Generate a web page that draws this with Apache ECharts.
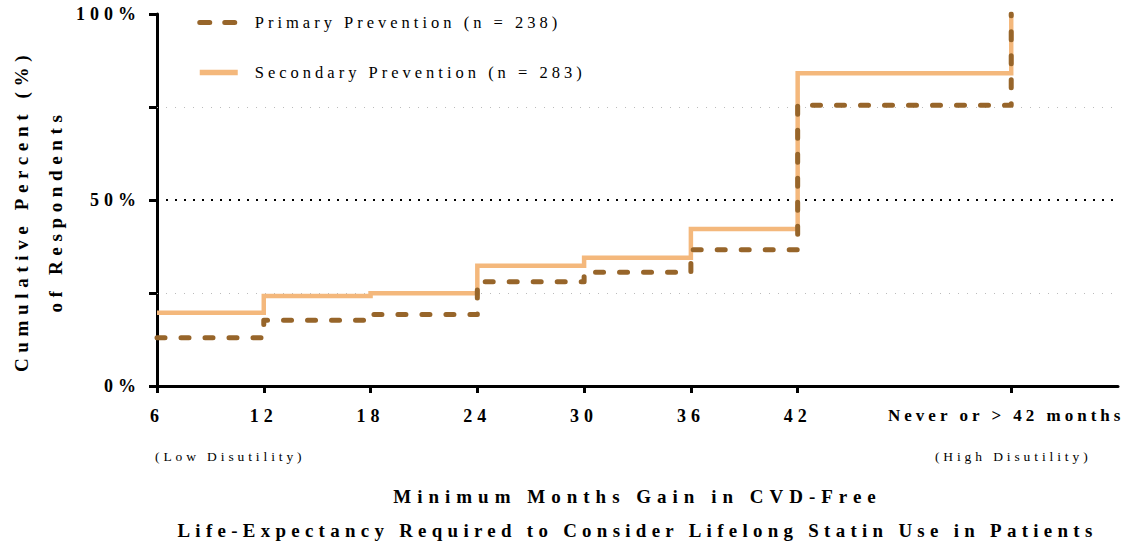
<!DOCTYPE html>
<html><head><meta charset="utf-8">
<script src="https://cdn.jsdelivr.net/npm/echarts@6/dist/echarts.min.js"></script>
<style>html,body{margin:0;padding:0;background:#fff}#chart{width:1133px;height:546px}</style>
</head><body><div id="chart"></div>
<script>
const months = [6, 12, 18, 24, 30, 36, 42, 54];
const xTickLabels = ['6', '12', '18', '24', '30', '36', '42', 'Never or > 42 months'];
const primary = [13.0, 17.7, 19.2, 28.0, 30.6, 36.6, 75.5, 100];
const secondary = [19.7, 24.2, 24.9, 32.3, 34.5, 42.2, 84.1, 100];
const seriesNames = ['Primary Prevention (n = 238)', 'Secondary Prevention (n = 283)'];
const yLabels = {0: '0%', 50: '50%', 100: '100%'};
const refLines = [25, 50, 75];
const subLabels = ['(Low Disutility)', '(High Disutility)'];
const subLabelAt = [6, 54];
const xNameLines = ['Minimum Months Gain in CVD-Free', 'Life-Expectancy Required to Consider Lifelong Statin Use in Patients'];
const yNameLines = ['Cumulative Percent (%)', 'of Respondents'];

const FONT = "'Liberation Serif', 'DejaVu Serif', serif";
const spacingBySize = {'18px': 5, '19px': 6.0, '18.9px': 5.3, '19.1px': 5.6, '16.5px': 4.0, '13.5px': 3.9, '17px': 4.0};
const BROWN = '#97652A', PEACH = '#F4B87C';

const chart = echarts.init(document.getElementById('chart'), null, {renderer: 'svg'});
const option = {
  animation: false,
  backgroundColor: '#fff',
  grid: {left: 157, right: 15, top: 14, bottom: 160, containLabel: false, outerBoundsMode: 'none'},
  legend: {
    orient: 'vertical', left: 192, top: 9, itemWidth: 38, itemHeight: 16, itemGap: 33,
    selectedMode: false,
    itemStyle: {opacity: 0},
    textStyle: {fontFamily: FONT, fontSize: 16.5, color: '#000', padding: [0, 0, 0, 12]},
    data: [
      {name: seriesNames[0], lineStyle: {color: BROWN, width: 5, type: [10, 15], cap: 'round'}},
      {name: seriesNames[1], lineStyle: {color: PEACH, width: 5.5, type: 'solid', cap: 'butt'}}
    ]
  },
  xAxis: {
    type: 'value', min: 6, max: 60,
    axisLine: {show: true, lineStyle: {color: '#000', width: 3}},
    axisTick: {show: true, customValues: months, length: 7, lineStyle: {color: '#000', width: 3}},
    axisLabel: {
      customValues: months, margin: 21,
      fontFamily: FONT, fontWeight: 'bold', fontSize: 18, color: '#000',
      formatter: v => { const i = months.indexOf(v); if (i < 0) return ''; return i === months.length - 1 ? '{n|' + xTickLabels[i] + '}' : xTickLabels[i]; },
      rich: {n: {fontFamily: FONT, fontWeight: 'bold', fontSize: 17, color: '#000', padding: [0, 10, 0, 0]}}
    },
    splitLine: {show: false},
    name: '{a|' + xNameLines[0] + '}\n{b|' + xNameLines[1] + '}',
    nameLocation: 'middle', nameGap: 93,
    nameTextStyle: {fontFamily: FONT, fontWeight: 'bold', fontSize: 19, color: '#000', lineHeight: 34,
      rich: {a: {fontFamily: FONT, fontWeight: 'bold', fontSize: 19, color: '#000', lineHeight: 34},
             b: {fontFamily: FONT, fontWeight: 'bold', fontSize: 18.9, color: '#000', lineHeight: 34}}}
  },
  yAxis: {
    type: 'value', min: 0, max: 100, interval: 25,
    axisLine: {show: true, lineStyle: {color: '#000', width: 3}},
    axisTick: {show: true, length: 8, lineStyle: {color: '#000', width: 3}},
    axisLabel: {margin: 16, fontFamily: FONT, fontWeight: 'bold', fontSize: 18, color: '#000',
      formatter: v => yLabels[v] || ''},
    splitLine: {show: false},
    name: yNameLines.join('\n'),
    nameLocation: 'middle', nameRotate: 90, nameGap: 85,
    nameTextStyle: {fontFamily: FONT, fontWeight: 'bold', fontSize: 19.1, color: '#000', lineHeight: 34,
      padding: [0, 22, 0, 0]}
  },
  series: [
    {
      name: seriesNames[1], type: 'line', step: 'end', symbol: 'none', z: 2,
      data: months.map((m, i) => [m, secondary[i]]),
      lineStyle: {color: PEACH, width: 4.5, cap: 'butt', join: 'miter'},
      itemStyle: {color: PEACH},
      markLine: {
        silent: true, symbol: ['none', 'none'], label: {show: false}, z: 1,
        data: refLines.map(v => ({yAxis: v, lineStyle: v === 50
          ? {color: '#000', type: [2, 7], width: 2}
          : {color: '#bbb', type: [1, 8], width: 1}}))
      }
    },
    {
      name: seriesNames[0], type: 'line', step: 'end', symbol: 'none', z: 3,
      data: months.map((m, i) => [m, primary[i]]),
      lineStyle: {color: BROWN, width: 5, type: [8, 16], cap: 'round', join: 'round'},
      itemStyle: {color: BROWN}
    }
  ]
};
chart.setOption(option);

const gy = 456;
chart.setOption({
  graphic: subLabels.map((t, i) => {
    const px = chart.convertToPixel({xAxisIndex: 0}, subLabelAt[i]);
    return {
      type: 'text', x: i === 0 ? px - 2 : px + 2, y: gy, silent: true,
      style: {text: t, fontFamily: FONT, fontSize: 13.5, fill: '#000',
        textAlign: i === 0 ? 'left' : 'center', textVerticalAlign: 'middle'}
    };
  })
});

function applySpacing() {
  document.querySelectorAll('#chart text, #chart tspan').forEach(t => {
    const fs = getComputedStyle(t).fontSize;
    const ls = spacingBySize[fs];
    if (ls != null) t.style.letterSpacing = ls + 'px';
  });
}
chart.on('finished', applySpacing);
applySpacing();
setTimeout(applySpacing, 50);
</script></body></html>
